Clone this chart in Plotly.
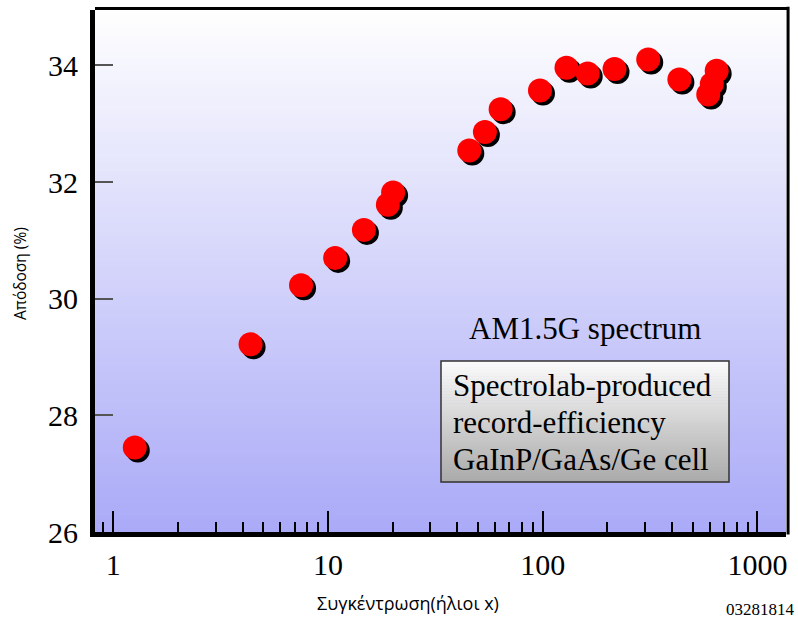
import numpy as np
import plotly.graph_objects as go

# Concentration (suns) and measured cell efficiency (%)
concentration = [1.26, 4.36, 7.49, 10.8, 14.7, 19.0, 20.1, 45.5, 53.8, 63.7,
                 97.1, 129, 162, 216, 310, 433, 590, 613, 646]
efficiency = [27.45, 29.22, 30.23, 30.70, 31.18, 31.61, 31.82, 32.54, 32.86, 33.25,
              33.57, 33.96, 33.86, 33.94, 34.10, 33.76, 33.50, 33.68, 33.91]

y_ticks = [26, 28, 30, 32, 34]
x_ticks = [1, 10, 100, 1000]

box_lines = ["Spectrolab-produced", "record-efficiency", "GaInP/GaAs/Ge cell"]

# Figure geometry (pixels)
W, H = 798, 620
L, R, T, B = 95, 12, 10, 88
plot_w = W - L - R
plot_h = H - T - B
x_range = [-0.085, 3.133]      # log10 units
y_range = [26.0, 34.95]

px_per_decade = plot_w / (x_range[1] - x_range[0])
px_per_unit = plot_h / (y_range[1] - y_range[0])

def paper_x(px):
    return (px - L) / plot_w

def paper_y(py):
    return (H - B - py) / plot_h

# Drop shadow: offset each marker a few pixels down and to the right
shadow_dx, shadow_dy = 3.0, 3.0
shadow_x = [c * 10 ** (shadow_dx / px_per_decade) for c in concentration]
shadow_y = [e - shadow_dy / px_per_unit for e in efficiency]

fig = go.Figure()
fig.add_trace(go.Scatter(
    x=shadow_x, y=shadow_y, mode="markers",
    marker=dict(size=24, color="black", line=dict(width=0)),
    hoverinfo="skip", showlegend=False,
))
fig.add_trace(go.Scatter(
    x=concentration, y=efficiency, mode="markers",
    marker=dict(size=24, color="#ff0000", line=dict(width=0)),
    showlegend=False,
))

shapes = []
# Vertical white-to-lavender gradient behind the data
n_bands = 120
top_rgb = np.array([255, 255, 255])
bot_rgb = np.array([170, 170, 248])
for i in range(n_bands):
    f0, f1 = i / n_bands, (i + 1) / n_bands
    t = 1 - (f0 + f1) / 2
    c = top_rgb + (bot_rgb - top_rgb) * t
    shapes.append(dict(
        type="rect", xref="x domain", yref="y domain",
        x0=0, x1=1, y0=f0, y1=f1 + 0.002,
        fillcolor="rgb(%d,%d,%d)" % tuple(c.astype(int)),
        line=dict(width=0), layer="below",
    ))

# Label box with light-to-grey gradient
bx0, bx1, by0, by1 = 441, 729, 361, 482
n_box = 40
box_top = np.array([252, 252, 252])
box_bot = np.array([170, 170, 170])
for i in range(n_box):
    y0 = by0 + (by1 - by0) * i / n_box
    y1 = by0 + (by1 - by0) * (i + 1) / n_box
    t = (i + 0.5) / n_box
    c = box_top + (box_bot - box_top) * t
    shapes.append(dict(
        type="rect", xref="paper", yref="paper",
        x0=paper_x(bx0), x1=paper_x(bx1), y0=paper_y(y1) - 0.001, y1=paper_y(y0),
        fillcolor="rgb(%d,%d,%d)" % tuple(c.astype(int)),
        line=dict(width=0), layer="above",
    ))
shapes.append(dict(
    type="rect", xref="paper", yref="paper",
    x0=paper_x(bx0), x1=paper_x(bx1), y0=paper_y(by1), y1=paper_y(by0),
    line=dict(color="#333333", width=1.5), fillcolor="rgba(0,0,0,0)", layer="above",
))

# Top and right frame lines
shapes.append(dict(type="line", xref="paper", yref="paper", x0=0, x1=1.004, y0=1.003, y1=1.003,
                   line=dict(color="black", width=3), layer="above"))
shapes.append(dict(type="line", xref="paper", yref="paper", x0=1.003, x1=1.003, y0=-0.005, y1=1.006,
                   line=dict(color="black", width=3), layer="above"))

serif = "Liberation Serif"
sans = "Open Sans"

annotations = [
    dict(text="AM1.5G spectrum", x=paper_x(585), y=paper_y(328), xref="paper", yref="paper",
         xanchor="center", yanchor="middle", showarrow=False,
         font=dict(family=serif, size=31, color="black")),
    dict(text="Συγκέντρωση(ήλιοι x)", x=paper_x(408), y=paper_y(603), xref="paper", yref="paper",
         xanchor="center", yanchor="middle", showarrow=False,
         font=dict(family=sans, size=18, color="black")),
    dict(text="Απόδοση (%)", x=paper_x(20), y=paper_y(274), xref="paper", yref="paper",
         xanchor="center", yanchor="middle", textangle=-90, showarrow=False,
         font=dict(family=sans, size=15.5, color="black")),
    dict(text="03281814", x=paper_x(797), y=paper_y(609), xref="paper", yref="paper",
         xanchor="right", yanchor="middle", showarrow=False,
         font=dict(family=serif, size=17, color="black")),
]
# One annotation per line inside the box, 37 px apart
for k, line in enumerate(box_lines):
    annotations.append(dict(
        text=line, x=paper_x(451), y=paper_y(385 + 37 * k), xref="paper", yref="paper",
        xanchor="left", yanchor="middle", showarrow=False,
        font=dict(family=serif, size=31, color="black"),
    ))

fig.update_layout(
    width=W, height=H,
    margin=dict(l=L, r=R, t=T, b=B, pad=0),
    paper_bgcolor="white", plot_bgcolor="white",
    shapes=shapes, annotations=annotations,
    xaxis=dict(
        type="log", range=x_range, tickvals=x_ticks, ticktext=[str(v) for v in x_ticks],
        ticks="inside", ticklen=21, tickwidth=2, tickcolor="black",
        showline=True, linecolor="black", linewidth=5,
        showgrid=False, zeroline=False,
        tickfont=dict(family=serif, size=30, color="black"),
        ticklabelstandoff=2,
        minor=dict(ticks="inside", ticklen=10, tickwidth=2, tickcolor="black",
                   dtick="D1", showgrid=False),
    ),
    yaxis=dict(
        range=y_range, tickvals=y_ticks,
        ticks="inside", ticklen=18, tickwidth=2, tickcolor="#555555",
        showline=True, linecolor="black", linewidth=5,
        showgrid=False, zeroline=False,
        tickfont=dict(family=serif, size=30, color="black"),
        ticklabelstandoff=6,
    ),
)

fig.write_html("out.html")
